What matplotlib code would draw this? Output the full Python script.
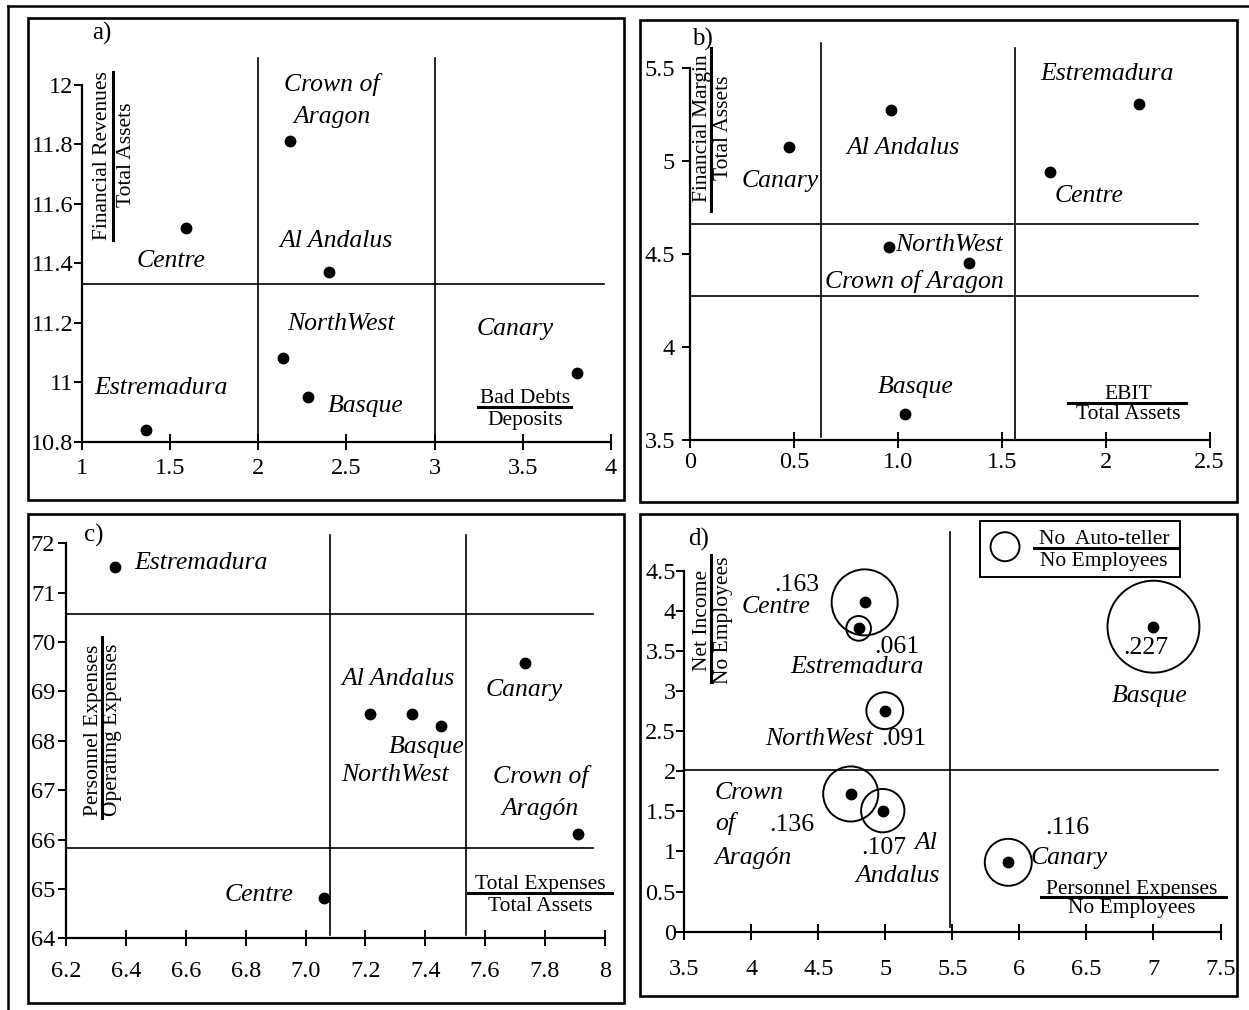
import matplotlib
matplotlib.use("Agg")
import matplotlib.pyplot as plt
from matplotlib.lines import Line2D
from matplotlib.patches import Rectangle

plt.rcParams['font.family'] = ['Liberation Serif', 'DejaVu Serif']

W, H = 1249, 1010

# ---------------- data ----------------
# a) Bad Debts/Deposits  vs  Financial Revenues/Total Assets
a_x = [2.18, 1.59, 2.40, 2.14, 2.28, 1.36, 3.81]
a_y = [11.81, 11.52, 11.37, 11.08, 10.95, 10.84, 11.03]
a_xcuts = [2.0, 3.0]
a_ycuts = [11.33]
a_xticks = [1, 1.5, 2, 2.5, 3, 3.5, 4]
a_xlabels = ['1', '1.5', '2', '2.5', '3', '3.5', '4']
a_yticks = [10.8, 11, 11.2, 11.4, 11.6, 11.8, 12]
a_ylabels = ['10.8', '11', '11.2', '11.4', '11.6', '11.8', '12']

# b) EBIT/Total Assets  vs  Financial Margin/Total Assets
b_x = [0.965, 0.477, 2.158, 1.733, 0.956, 1.342, 1.033]
b_y = [5.278, 5.074, 5.31, 4.94, 4.536, 4.45, 3.638]
b_xcuts = [0.628, 1.564]
b_ycuts = [4.661, 4.275]
b_xticks = [0, 0.5, 1.0, 1.5, 2, 2.5]
b_xlabels = ['0', '0.5', '1.0', '1.5', '2', '2.5']
b_yticks = [3.5, 4, 4.5, 5, 5.5]
b_ylabels = ['3.5', '4', '4.5', '5', '5.5']

# c) Total Expenses/Total Assets  vs  Personnel Expenses/Operating Expenses
c_x = [6.361, 7.732, 7.216, 7.356, 7.451, 7.911, 7.062]
c_y = [71.53, 69.58, 68.54, 68.54, 68.29, 66.11, 64.81]
c_xcuts = [7.081, 7.537]
c_ycuts = [70.57, 65.82]
c_xticks = [6.2, 6.4, 6.6, 6.8, 7.0, 7.2, 7.4, 7.6, 7.8, 8.0]
c_xlabels = ['6.2', '6.4', '6.6', '6.8', '7.0', '7.2', '7.4', '7.6', '7.8', '8']
c_yticks = [64, 65, 66, 67, 68, 69, 70, 71, 72]
c_ylabels = ['64', '65', '66', '67', '68', '69', '70', '71', '72']

# d) Personnel Expenses/No Employees  vs  Net Income/No Employees, circle = auto-tellers/employees
d_regions = ['Centre', 'Estremadura', 'NorthWest', 'Crown of Aragón', 'Al Andalus', 'Canary', 'Basque']
d_x = [4.846, 4.801, 4.996, 4.742, 4.981, 5.917, 7.0]
d_y = [4.105, 3.781, 2.755, 1.717, 1.509, 0.865, 3.802]
d_teller = [0.163, 0.061, 0.091, 0.136, 0.107, 0.116, 0.227]
d_xcuts = [5.484]
d_ycuts = [2.016]
d_xticks = [3.5, 4, 4.5, 5, 5.5, 6, 6.5, 7, 7.5]
d_xlabels = ['3.5', '4', '4.5', '5', '5.5', '6', '6.5', '7', '7.5']
d_yticks = [0, 0.5, 1, 1.5, 2, 2.5, 3, 3.5, 4, 4.5]
d_ylabels = ['0', '0.5', '1', '1.5', '2', '2.5', '3', '3.5', '4', '4.5']

TICK_FS = 17.5
NAME_FS = 18.5
FRAC_FS = 15.5

fig = plt.figure(figsize=(W / 100, H / 100), dpi=100)

# outer frame (top and left edge only)
fig.add_artist(Line2D([8 / W, 1], [1 - 6 / H, 1 - 6 / H], transform=fig.transFigure, color='black', lw=1.8))
fig.add_artist(Line2D([8 / W, 8 / W], [0, 1 - 6 / H], transform=fig.transFigure, color='black', lw=1.8))


def frame(l, t, r, b):
    fig.add_artist(Rectangle((l / W, 1 - b / H), (r - l) / W, (b - t) / H,
                             transform=fig.transFigure, fill=False, ec='black', lw=1.9))


def make_axes(l, r, t, b, xlim, ylim, xticks, xlabels, yticks, ylabels, xpad, ypad):
    ax = fig.add_axes([l / W, 1 - b / H, (r - l) / W, (b - t) / H])
    ax.patch.set_alpha(0)
    for s in ('top', 'right'):
        ax.spines[s].set_visible(False)
    for s in ('left', 'bottom'):
        ax.spines[s].set_linewidth(1.6)
    ax.set_xlim(*xlim)
    ax.set_ylim(*ylim)
    ax.set_xticks(xticks, xlabels)
    ax.set_yticks(yticks, ylabels)
    ax.tick_params(axis='x', direction='inout', length=11, width=1.4, labelsize=TICK_FS, pad=xpad)
    ax.tick_params(axis='y', direction='out', length=6, width=1.4, labelsize=TICK_FS, pad=ypad)
    return ax


def cuts(ax, xcuts, ycuts, vy, hx):
    for xc in xcuts:
        ax.plot([xc, xc], vy, color='black', lw=1.2, clip_on=False)
    for yc in ycuts:
        ax.plot(hx, [yc, yc], color='black', lw=1.2, clip_on=False)


def names(ax, labels):
    for txt, x, y, ha in labels:
        ax.text(x, y, txt, ha=ha, va='center', style='italic', fontsize=NAME_FS, clip_on=False)


def hfrac(ax, num, den, xc, ynum, yden, x0, x1, yl):
    ax.text(xc, ynum, num, ha='center', va='center', fontsize=FRAC_FS)
    ax.text(xc, yden, den, ha='center', va='center', fontsize=FRAC_FS)
    ax.plot([x0, x1], [yl, yl], color='black', lw=2.2, clip_on=False)


def vfrac(ax, num, den, xnum, xden, yc, xl, y0, y1):
    ax.text(xnum, yc, num, ha='center', va='center', rotation=90, fontsize=FRAC_FS)
    ax.text(xden, yc, den, ha='center', va='center', rotation=90, fontsize=FRAC_FS)
    ax.plot([xl, xl], [y0, y1], color='black', lw=2.2, clip_on=False)


# ---------------- a) ----------------
frame(28, 18, 624, 500)
ax = make_axes(82.2, 610.7, 85, 441.7, (1, 4), (10.8, 12), a_xticks, a_xlabels,
               a_yticks, a_ylabels, 6.0, 0.5)
cuts(ax, a_xcuts, a_ycuts, [10.8, 12.09], [1, 3.96])
ax.plot(a_x, a_y, 'o', color='black', ms=7.5, clip_on=False)
names(ax, [('Crown of', 2.418, 12.0, 'center'), ('Aragon', 2.418, 11.893, 'center'),
           ('Centre', 1.503, 11.409, 'center'), ('Al Andalus', 2.44, 11.476, 'center'),
           ('NorthWest', 2.467, 11.196, 'center'), ('Canary', 3.455, 11.178, 'center'),
           ('Estremadura', 1.449, 10.98, 'center'), ('Basque', 2.609, 10.92, 'center')])
ax.text(1.11, 12.174, 'a)', ha='center', va='center', fontsize=18, clip_on=False)
hfrac(ax, 'Bad Debts', 'Deposits', 3.515, 10.945, 10.87, 3.248, 3.775, 10.917)
vfrac(ax, 'Financial Revenues', 'Total Assets', 1.117, 1.251, 11.764, 1.177, 11.479, 12.045)

# ---------------- b) ----------------
frame(640, 20, 1237, 502)
ax = make_axes(690.2, 1209.6, 68.3, 440, (0, 2.5), (3.5, 5.5), b_xticks, b_xlabels,
               b_yticks, b_ylabels, 3.5, 5)
ax.plot([b_xcuts[0]] * 2, [3.518, 5.635], color='black', lw=1.2, clip_on=False)
ax.plot([b_xcuts[1]] * 2, [3.5, 5.608], color='black', lw=1.2, clip_on=False)
cuts(ax, [], b_ycuts, None, [0, 2.446])
ax.plot(b_x, b_y, 'o', color='black', ms=7.5, clip_on=False)
names(ax, [('Estremadura', 2.008, 5.47, 'center'), ('Al Andalus', 1.023, 5.069, 'center'),
           ('Canary', 0.434, 4.894, 'center'), ('Centre', 1.921, 4.813, 'center'),
           ('NorthWest', 0.985, 4.549, 'left'), ('Crown of Aragon', 1.081, 4.352, 'center'),
           ('Basque', 1.087, 3.783, 'center')])
ax.text(0.058, 5.656, 'b)', ha='center', va='center', fontsize=18, clip_on=False)
hfrac(ax, 'EBIT', 'Total Assets', 2.11, 3.745, 3.638, 1.819, 2.388, 3.697)
vfrac(ax, 'Financial Margin', 'Total Assets', 0.058, 0.160, 5.18, 0.102, 4.734, 5.608)

# ---------------- c) ----------------
frame(28, 514, 624, 1003)
ax = make_axes(66.4, 604.7, 543.3, 938.3, (6.2, 8.0), (64, 72), c_xticks, c_xlabels,
               c_yticks, c_ylabels, 11.0, 2)
cuts(ax, c_xcuts, c_ycuts, [64.068, 72.169], [6.2, 7.96])
ax.plot(c_x, c_y, 'o', color='black', ms=7.5, clip_on=False)
names(ax, [('Estremadura', 6.427, 71.595, 'left'), ('Al Andalus', 7.309, 69.245, 'center'),
           ('Canary', 7.732, 69.029, 'center'), ('Basque', 7.405, 67.868, 'center'),
           ('NorthWest', 7.30, 67.307, 'center'), ('Crown of', 7.786, 67.273, 'center'),
           ('Aragón', 7.785, 66.612, 'center'), ('Centre', 6.844, 64.877, 'center')])
ax.text(6.293, 72.149, 'c)', ha='center', va='center', fontsize=18, clip_on=False)
hfrac(ax, 'Total Expenses', 'Total Assets', 7.784, 65.08, 64.654, 7.544, 8.026, 64.91)
vfrac(ax, 'Personnel Expenses', 'Operating Expenses', 6.289, 6.355, 68.22, 6.318, 66.43, 70.109)

# ---------------- d) ----------------
frame(640, 514, 1237, 996)
ax = make_axes(684.2, 1220.5, 570.7, 931.7, (3.5, 7.5), (0, 4.5), d_xticks, d_xlabels,
               d_yticks, d_ylabels, 14.0, 0)
cuts(ax, d_xcuts, d_ycuts, [0.062, 4.986], [3.5, 7.479])
ax.plot(d_x, d_y, 'o', color='black', ms=7.5, clip_on=False)
# circle diameter proportional to auto-tellers per employee
ax.scatter(d_x, d_y, s=[(291.6 * v) ** 2 for v in d_teller], facecolors='none',
           edgecolors='black', linewidths=1.4, clip_on=False)
names(ax, [('Centre', 4.188, 4.043, 'center'), ('Estremadura', 4.786, 3.303, 'center'),
           ('NorthWest', 4.502, 2.398, 'center'), ('Crown', 3.73, 1.725, 'left'),
           ('of', 3.73, 1.351, 'left'), ('Aragón', 3.725, 0.915, 'left'),
           ('Al', 5.301, 1.102, 'center'), ('Andalus', 5.092, 0.695, 'center'),
           ('Canary', 6.372, 0.914, 'center'), ('Basque', 6.97, 2.938, 'center')])
for txt, x, y in [('.163', 4.338, 4.321), ('.061', 5.086, 3.553), ('.091', 5.137, 2.398),
                  ('.136', 4.302, 1.330), ('.107', 4.987, 1.039), ('.116', 6.357, 1.288),
                  ('.227', 6.94, 3.532)]:
    ax.text(x, y, txt, ha='center', va='center', fontsize=NAME_FS, clip_on=False)
ax.text(3.605, 4.891, 'd)', ha='center', va='center', fontsize=18, clip_on=False)
# legend box
ax.add_patch(Rectangle((5.705, 4.425), 1.496, 0.698, fill=False, ec='black', lw=1.4, clip_on=False))
ax.scatter([5.893], [4.799], s=(29 * 0.72) ** 2, facecolors='none', edgecolors='black',
           linewidths=1.4, clip_on=False)
hfrac(ax, 'No  Auto-teller', 'No Employees', 6.63, 4.895, 4.62, 6.109, 7.174, 4.787)
hfrac(ax, 'Personnel Expenses', 'No Employees', 6.84, 0.53, 0.291, 6.163, 7.539, 0.437)
vfrac(ax, 'Net Income', 'No Employees', 3.635, 3.793, 3.88, 3.703, 3.117, 4.695)

fig.savefig('out.png', dpi=100)
